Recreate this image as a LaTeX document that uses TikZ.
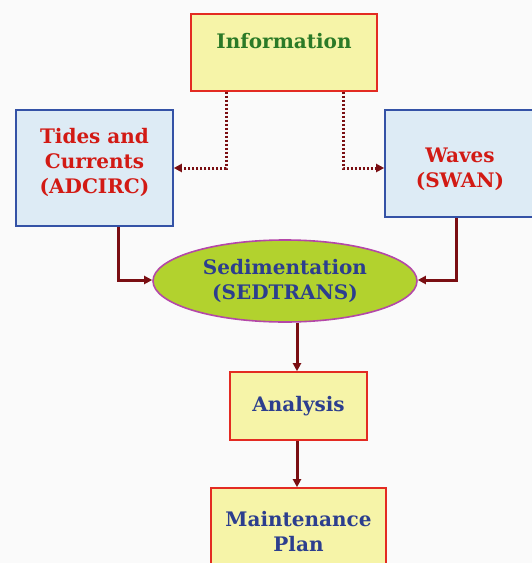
\documentclass[tikz,border=0pt]{standalone}
\usepackage{fontspec}
\setmainfont{DejaVu Serif}
\usetikzlibrary{arrows.meta,shapes.geometric}
\definecolor{bgc}{HTML}{FAFAFA}
\definecolor{yfill}{HTML}{F6F4A8}
\definecolor{rborder}{HTML}{E32B22}
\definecolor{bfill}{HTML}{DDEBF5}
\definecolor{bborder}{HTML}{3452A6}
\definecolor{efill}{HTML}{B2D22E}
\definecolor{eborder}{HTML}{B447A8}
\definecolor{gtext}{HTML}{2B7A27}
\definecolor{rtext}{HTML}{D21A14}
\definecolor{btext}{HTML}{2C3E8E}
\definecolor{arr}{HTML}{7A0E12}
\tikzset{
  x=1pt, y=-1pt,
  every node/.style={font=\bfseries\fontsize{20}{25}\selectfont, align=center, inner sep=0pt},
  ybox/.style={draw=rborder, fill=yfill, line width=1.6pt},
  bbox/.style={draw=bborder, fill=bfill, line width=1.6pt, text=rtext},
  sol/.style={draw=arr, line width=3pt, -{Triangle[length=8pt,width=8pt]}},
  dotl/.style={draw=arr, line width=3pt, dash pattern=on 2.2pt off 1.8pt, -{Triangle[length=8pt,width=8pt]}}
}
\begin{document}
\begin{tikzpicture}
\fill[bgc] (0,0) rectangle (532,563);
\useasboundingbox (0,0) rectangle (532,563);
\node[ybox, text=gtext, minimum width=186pt, text height=34.5pt, text depth=42.5pt] (info) at (284,13) [anchor=north] {Information};
\node[bbox, minimum width=157pt, minimum height=116pt] (tides) at (94.5,168) {Tides and\\Currents\\(ADCIRC)\rule[-15pt]{0pt}{1pt}};
\node[bbox, minimum width=150pt, minimum height=107pt] (waves) at (460,163.5) {\rule{0pt}{27pt}Waves\\(SWAN)};
\node[draw=eborder, fill=efill, line width=1.6pt, ellipse, minimum width=264pt, minimum height=82pt, text=btext] (sed) at (285,281) {Sedimentation\\(SEDTRANS)};
\node[ybox, text=btext, minimum width=137pt, minimum height=68pt] (ana) at (298.5,406) {Analysis};
\node[ybox, text=btext, minimum width=175pt, minimum height=88pt] (mp) at (298.5,532) {Maintenance\\Plan};
\draw[dotl] (info.south -| 226,0) |- (tides.east |- 0,168);
\draw[dotl] (info.south -| 343,0) |- (waves.west |- 0,168);
\draw[sol] (tides.south -| 118,0) |- (sed.west |- 0,280);
\draw[sol] (waves.south -| 456,0) |- (sed.east |- 0,280);
\draw[sol] (sed.south -| 297,0) -- (ana.north -| 297,0);
\draw[sol] (ana.south -| 297,0) -- (mp.north -| 297,0);
\end{tikzpicture}
\end{document}
